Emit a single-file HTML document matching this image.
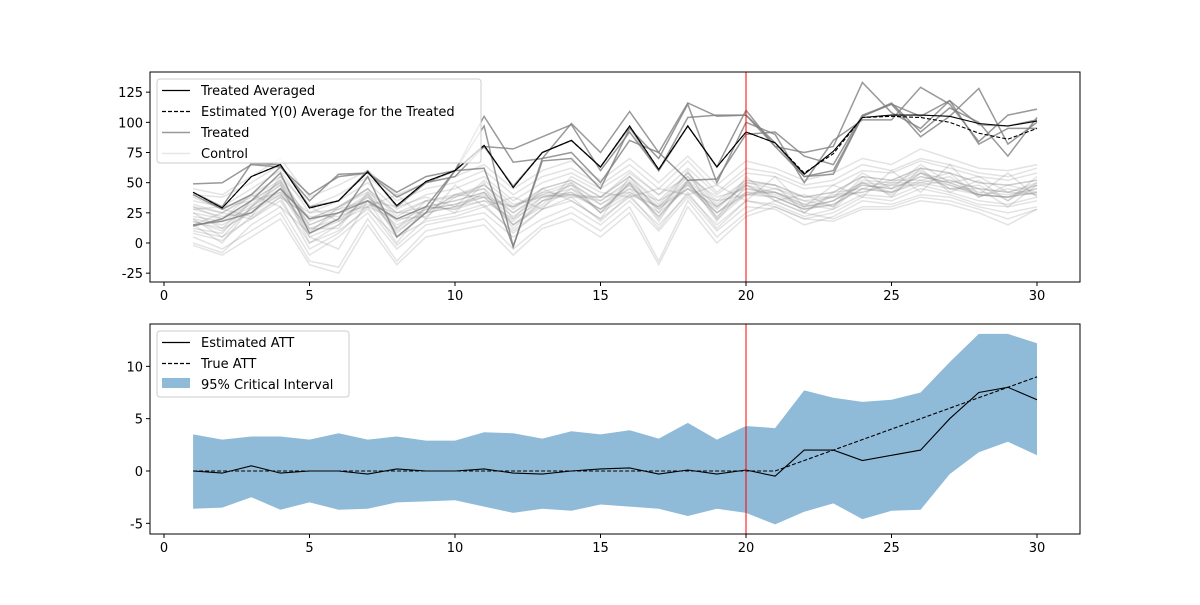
<!DOCTYPE html>
<html><head><meta charset="utf-8"><style>
body{margin:0;background:#fff;}
svg text{font-family:"DejaVu Sans","Liberation Sans",sans-serif;font-size:13px;fill:#000;}
</style></head><body>
<svg id="chart" width="1200" height="600" xmlns="http://www.w3.org/2000/svg"></svg>
<script>
const periods=[1,2,3,4,5,6,7,8,9,10,11,12,13,14,15,16,17,18,19,20,21,22,23,24,25,26,27,28,29,30];
const treatedAvg=[42,29,55,65,29,35,59,31,51,60,81,46,75,85,63,97,61,97,63,92,83,57,76,104,106,106,105,99,97,101];
const estY0=[42,29,55,65,29,35,59,31,51,60,81,46,75,85,63,97,61,97,63,92,83,58,74,104,105,104,100,91,86,95];
const treatedUnits=[
[49,50,65,63,40,55,58,42,55,60,105,67,70,99,75,109,75,116,105,106,80,75,80,133,108,95,118,82,95,95],
[42,30,66,65,30,35,60,30,50,60,80,47,75,85,63,96,60,97,63,110,80,55,60,105,116,92,112,100,72,104],
[14,20,35,58,8,20,55,5,25,60,62,-3,68,70,45,95,70,115,50,100,90,50,85,102,102,129,115,84,106,111],
[40,28,40,63,35,57,58,38,50,55,80,78,88,98,60,92,60,104,106,106,83,55,57,105,115,88,105,128,82,100],
[15,18,25,45,20,25,35,20,30,60,97,-3,70,75,50,85,75,52,53,90,92,72,65,106,115,105,118,98,97,102]];
const controlUnits=[
[30,20,40,55,18,28,45,22,35,40,48,28,45,52,38,55,32,58,32,52,48,38,42,55,52,62,58,50,48,52],
[10,5,20,35,0,10,28,5,18,22,30,10,28,35,20,38,15,40,15,35,30,20,25,38,35,45,40,32,30,35],
[25,12,35,50,15,25,30,20,22,38,45,25,42,40,35,52,28,45,30,50,45,35,30,52,50,60,45,48,35,50],
[0,-8,15,30,-10,5,25,-5,15,20,25,5,20,30,15,35,10,38,10,30,28,15,22,35,32,40,38,30,25,30],
[35,30,45,60,25,35,50,28,40,45,55,35,50,58,45,60,40,62,40,58,55,45,48,60,58,68,62,55,52,58],
[18,10,28,42,5,15,35,10,25,30,38,15,35,42,28,45,22,48,22,42,38,28,32,45,42,52,48,40,38,42],
[28,22,25,40,20,30,42,25,30,28,35,30,42,50,25,40,30,55,30,48,35,25,40,42,50,50,55,38,45,40],
[15,0,30,48,5,-5,35,0,30,35,42,15,30,45,25,50,18,52,20,40,42,32,28,50,40,58,45,45,30,48],
[40,38,50,65,30,40,55,35,45,50,60,40,55,62,48,65,45,68,42,62,58,48,52,65,60,70,65,58,55,62],
[5,-5,10,25,-15,-20,20,-15,10,15,20,-5,15,25,10,30,-15,35,5,25,35,25,20,30,30,38,35,28,20,28],
[22,18,30,45,10,25,38,18,28,32,40,22,38,45,32,48,28,50,25,45,40,30,35,48,45,55,50,42,40,45],
[30,25,20,38,22,22,32,25,25,40,38,30,40,38,38,42,30,45,35,40,45,38,38,42,48,48,52,45,42,40],
[12,8,35,50,0,15,40,8,30,28,42,12,35,48,25,50,20,52,18,48,38,28,35,50,42,58,48,40,38,48],
[20,15,28,40,12,20,35,15,25,30,35,20,35,40,28,42,25,45,25,40,38,28,32,45,42,50,45,40,38,42],
[45,40,55,70,38,48,60,40,50,55,65,45,60,68,52,70,50,72,48,68,62,52,58,70,65,78,70,62,60,65],
[8,2,22,38,-5,8,30,-2,20,25,32,8,28,38,18,40,12,42,12,35,32,22,28,40,38,48,42,35,32,38],
[32,25,38,52,20,30,45,25,35,38,48,30,45,52,38,55,35,58,35,52,48,38,42,55,52,62,58,50,48,52],
[18,12,25,45,8,18,38,12,28,32,38,18,38,42,28,48,22,50,25,42,42,30,35,48,45,55,50,40,38,45],
[25,20,32,48,15,25,40,20,30,35,42,25,40,48,35,50,30,52,30,48,42,32,38,50,48,58,52,45,42,48],
[-2,-10,5,20,-18,-25,15,-18,5,10,15,-10,12,20,5,25,-18,30,0,22,30,20,18,28,28,35,32,25,15,28],
[38,28,22,55,30,18,30,40,20,48,30,38,28,55,42,38,45,40,48,35,55,30,48,38,60,42,65,40,58,38],
[15,25,40,30,8,30,45,12,35,25,50,20,45,35,20,55,25,60,20,55,35,40,30,55,38,62,42,52,35,55],
[20,5,30,52,12,12,42,5,25,40,45,15,32,50,32,45,35,48,28,50,48,25,42,45,52,52,58,38,48,42],
[28,30,35,42,25,28,35,30,38,30,52,32,38,40,38,58,40,55,38,45,42,35,38,58,45,65,50,55,42,50]];
const attEst=[0,-0.2,0.5,-0.2,0,0,-0.3,0.2,0,0,0.2,-0.2,-0.3,0,0.2,0.3,-0.3,0.1,-0.3,0.1,-0.5,2,2,1,1.5,2,5,7.5,8,6.8];
const attTrue=[0,0,0,0,0,0,0,0,0,0,0,0,0,0,0,0,0,0,0,0,0,1,2,3,4,5,6,7,8,9];
const ciUpper=[3.5,3,3.3,3.3,3,3.6,3,3.3,2.9,2.9,3.7,3.6,3.1,3.8,3.5,3.9,3.1,4.6,3,4.3,4.1,7.7,7,6.6,6.8,7.5,10.4,13.1,13.1,12.2];
const ciLower=[-3.6,-3.5,-2.5,-3.7,-3,-3.7,-3.6,-3,-2.9,-2.8,-3.4,-4,-3.6,-3.8,-3.2,-3.4,-3.6,-4.3,-3.6,-4,-5.1,-3.9,-3.1,-4.6,-3.8,-3.7,-0.3,1.8,2.8,1.5];
const xTicks=[0,5,10,15,20,25,30];
const topYTicks=[-25,0,25,50,75,100,125];
const botYTicks=[-5,0,5,10];
const treatStart=20;

const NS="http://www.w3.org/2000/svg";
const svg=document.getElementById('chart');
function mk(tag,attrs,parent){const e=document.createElementNS(NS,tag);for(const k in attrs)e.setAttribute(k,attrs[k]);(parent||svg).appendChild(e);return e;}
const L=150,R=1080;
const xs=v=>164+v*(1037-164)/30;
const yTop=v=>243-v*(273-92)/150;
const yBot=v=>471-v*(523-366)/15;
function pts(xarr,yarr,ys){return xarr.map((x,i)=>xs(x).toFixed(1)+','+ys(yarr[i]).toFixed(1)).join(' ');}

function axes(top,bottom,ys,yt,name){
  const g=mk('g',{});
  
  
  xTicks.forEach(t=>{const x=xs(t);mk('line',{x1:x,x2:x,y1:bottom,y2:bottom+4,stroke:'#000'},g);
    const tx=mk('text',{x:x,y:bottom+18,'text-anchor':'middle'},g);tx.textContent=t;
    });
  yt.forEach(t=>{const y=ys(t);mk('line',{x1:L-4,x2:L,y1:y,y2:y,stroke:'#000'},g);
    const tx=mk('text',{x:L-7,y:y+5,'text-anchor':'end'},g);tx.textContent=t;
    });
  mk('rect',{x:L,y:top,width:R-L,height:bottom-top,fill:'none',stroke:'#000','stroke-width':1},g);
}

const gTop=mk('g',{});


controlUnits.forEach(r=>{const p=mk('polyline',{points:pts(periods,r,yTop),fill:'none',stroke:'#808080','stroke-opacity':0.22,'stroke-width':1.5},gTop);
  });
treatedUnits.forEach(r=>{const p=mk('polyline',{points:pts(periods,r,yTop),fill:'none',stroke:'#808080','stroke-opacity':0.8,'stroke-width':1.5},gTop);
  });
let p1=mk('polyline',{points:pts(periods,treatedAvg,yTop),fill:'none',stroke:'#000','stroke-width':1.1},gTop);

let p2=mk('polyline',{points:pts(periods,estY0,yTop),fill:'none',stroke:'#000','stroke-width':1.1,'stroke-dasharray':'4,2'},gTop);

let v1=mk('line',{x1:xs(treatStart),x2:xs(treatStart),y1:72,y2:282,stroke:'red','stroke-width':1},gTop);

axes(72,282,yTop,topYTicks,'top');

const lg1=mk('g',{});


mk('rect',{x:157,y:79,width:324,height:84,rx:3,fill:'#fff','fill-opacity':0.8,stroke:'#ccc'},lg1);
[['Treated Averaged','#000',1,1.2,''],['Estimated Y(0) Average for the Treated','#000',1,1.2,'4,2'],['Treated','#808080',0.8,1.5,''],['Control','#808080',0.2,1.5,'']].forEach((e,i)=>{
  const y=90+i*21;
  mk('line',{x1:162,x2:190,y1:y+0.5,y2:y+0.5,stroke:e[1],'stroke-opacity':e[2],'stroke-width':e[3],'stroke-dasharray':e[4]},lg1);
  const t=mk('text',{x:201,y:y+5},lg1);t.textContent=e[0];
  
});

const gB=mk('g',{});


const bandPts=periods.map((x,i)=>xs(x).toFixed(1)+','+yBot(ciUpper[i]).toFixed(1)).concat(periods.slice().reverse().map((x,j)=>{const i=periods.length-1-j;return xs(x).toFixed(1)+','+yBot(ciLower[i]).toFixed(1);})).join(' ');
let band=mk('polygon',{points:bandPts,fill:'#1f77b4','fill-opacity':0.5},gB);

let p3=mk('polyline',{points:pts(periods,attTrue,yBot),fill:'none',stroke:'#000','stroke-width':1.1,'stroke-dasharray':'4,2'},gB);

let p4=mk('polyline',{points:pts(periods,attEst,yBot),fill:'none',stroke:'#000','stroke-width':1.1},gB);

let v2=mk('line',{x1:xs(treatStart),x2:xs(treatStart),y1:324,y2:534,stroke:'red','stroke-width':1},gB);

axes(324,534,yBot,botYTicks,'bottom');

const lg2=mk('g',{});


mk('rect',{x:157,y:331,width:192,height:66,rx:3,fill:'#fff','fill-opacity':0.8,stroke:'#ccc'},lg2);
[['Estimated ATT',''],['True ATT','4,2']].forEach((e,i)=>{
  const y=342+i*21;
  mk('line',{x1:162,x2:190,y1:y+0.5,y2:y+0.5,stroke:'#000','stroke-width':1.2,'stroke-dasharray':e[1]},lg2);
  const t=mk('text',{x:201,y:y+5},lg2);t.textContent=e[0];
  
});
mk('rect',{x:162,y:378,width:28,height:10,fill:'#1f77b4','fill-opacity':0.5},lg2);
let t3=mk('text',{x:201,y:389},lg2);t3.textContent='95% Critical Interval';

</script>
</body></html>
